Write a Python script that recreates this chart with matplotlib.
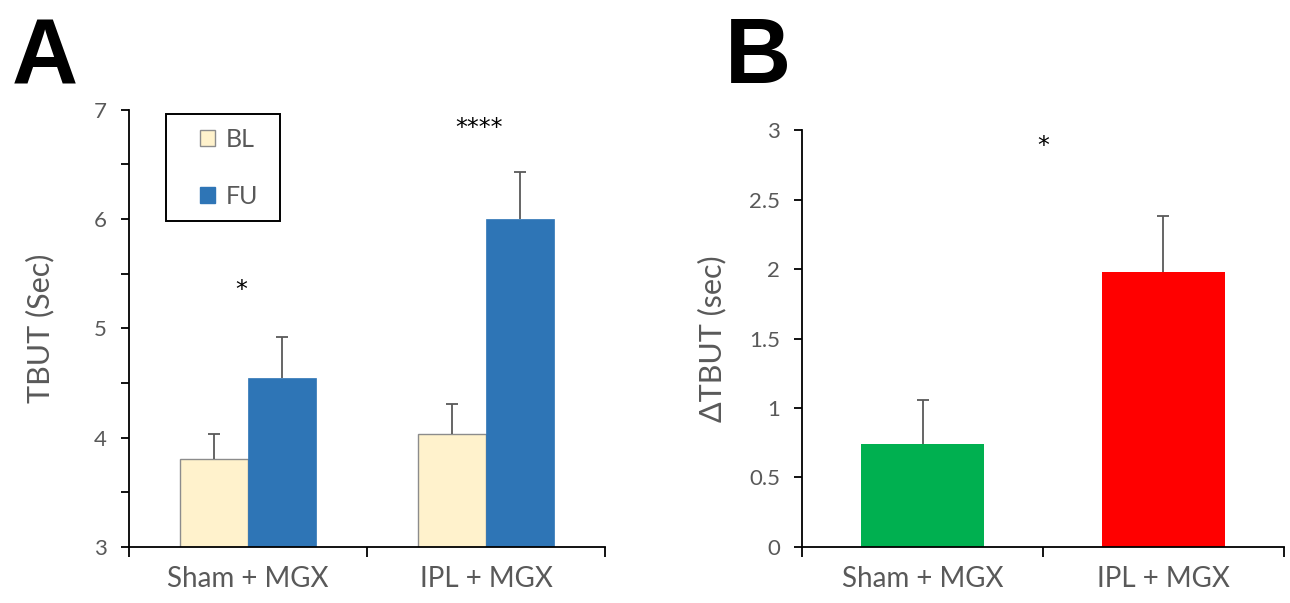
import numpy as np
import matplotlib
matplotlib.use("Agg")
import matplotlib.pyplot as plt
from matplotlib.patches import Rectangle
from matplotlib.ticker import MultipleLocator, FixedLocator, FormatStrFormatter

plt.rcParams["font.family"] = ["Lato", "DejaVu Sans"]

# ── data ───────────────────────────────────────────────────────
groups = ["Sham + MGX", "IPL + MGX"]
series = ["BL", "FU"]
tbut_bl = [3.80, 4.03]
tbut_bl_err = [0.23, 0.28]
tbut_fu = [4.55, 6.00]
tbut_fu_err = [0.37, 0.43]
sig_a = ["*", "****"]
sig_a_y = [5.35, 6.83]

delta_tbut = [0.74, 1.98]
delta_err = [0.32, 0.40]
sig_b = "*"
sig_b_y = 2.89

grey = "#595959"
c_bl, c_fu = "#FFF2CC", "#2E75B6"
c_b = ["#00B050", "#FF0000"]

fig = plt.figure(figsize=(12.9, 6.03), dpi=100)
axA = fig.add_axes([0.100, 0.093, 0.369, 0.725])
axB = fig.add_axes([0.622, 0.093, 0.373, 0.691])


def style(ax):
    for s in ["top", "right"]:
        ax.spines[s].set_visible(False)
    for s in ["left", "bottom"]:
        ax.spines[s].set_color("black")
        ax.spines[s].set_linewidth(1.3)
    ax.set_xlim(-0.5, 1.5)
    ax.set_xticks([-0.5, 0.5, 1.5])
    ax.set_xticklabels([])
    ax.xaxis.set_minor_locator(FixedLocator([0, 1]))
    ax.set_xticklabels(groups, minor=True)
    ax.tick_params(axis="x", which="major", length=7, width=1.3, direction="out")
    ax.tick_params(axis="x", which="minor", length=0, pad=14,
                   labelsize=20, labelcolor=grey)
    ax.tick_params(axis="y", which="both", length=6, width=1.3,
                   labelsize=16, labelcolor=grey, pad=10)


def hide_lower_caps(container):
    # only the upper half of each error bar is drawn in the original
    caps = container.errorbar.lines[1]
    if caps:
        caps[0].set_visible(False)


# ── Panel A ────────────────────────────────────────────────────
x = np.arange(len(groups))
w = 0.286
err_kw = dict(ecolor=grey, elinewidth=1.3, capsize=4, capthick=1.3)
b1 = axA.bar(x - w / 2, tbut_bl, w, color=c_bl, edgecolor="#8C8C8C",
             linewidth=1.0, label=series[0],
             yerr=[np.zeros(2), tbut_bl_err], error_kw=err_kw)
b2 = axA.bar(x + w / 2, tbut_fu, w, color=c_fu, edgecolor=c_fu,
             linewidth=0.5, label=series[1],
             yerr=[np.zeros(2), tbut_fu_err], error_kw=err_kw)
hide_lower_caps(b1)
hide_lower_caps(b2)
axA.set_ylim(3, 7)
axA.yaxis.set_major_locator(MultipleLocator(1))
axA.yaxis.set_minor_locator(MultipleLocator(0.5))
style(axA)
axA.set_ylabel("TBUT (Sec)", fontsize=22, color=grey, labelpad=28)
for xi, s, yy in zip(x, sig_a, sig_a_y):
    axA.text(xi - 0.03, yy, s, ha="center", va="center", fontsize=17,
             family="DejaVu Sans", color="black")

# legend: frame drawn separately so its box can match the original
axA.add_patch(Rectangle((0.078, 0.746), 0.239, 0.245, transform=axA.transAxes,
                        fill=False, edgecolor="black", linewidth=1.4,
                        clip_on=False, zorder=5))
leg = axA.legend(loc="upper left", bbox_to_anchor=(0.150, 0.958),
                 frameon=False, borderaxespad=0, borderpad=0,
                 handlelength=0.6, handleheight=0.6, handletextpad=0.4,
                 labelspacing=1.35, fontsize=18)
for t in leg.get_texts():
    t.set_color(grey)
for h in leg.legend_handles:
    if h.get_label() == series[0]:
        h.set_edgecolor("#8C7A4A")
    h.set_linewidth(1.0)

# ── Panel B ────────────────────────────────────────────────────
b3 = axB.bar(x, delta_tbut, 0.51, color=c_b,
             yerr=[np.zeros(2), delta_err], error_kw=err_kw)
hide_lower_caps(b3)
axB.set_ylim(0, 3)
axB.yaxis.set_major_locator(MultipleLocator(0.5))
axB.yaxis.set_major_formatter(FormatStrFormatter("%g"))
style(axB)
axB.set_ylabel("ΔTBUT (sec)", fontsize=22, color=grey, labelpad=16)
axB.text(0.5, sig_b_y, sig_b, ha="center", va="center", fontsize=17,
         family="DejaVu Sans", color="black")

# panel letters
fig.text(0.009, 0.862, "A", fontsize=66, fontweight="bold",
         family="Liberation Sans", color="black")
fig.text(0.562, 0.862, "B", fontsize=66, fontweight="bold",
         family="Liberation Sans", color="black")

fig.savefig("out.png", dpi=100)
